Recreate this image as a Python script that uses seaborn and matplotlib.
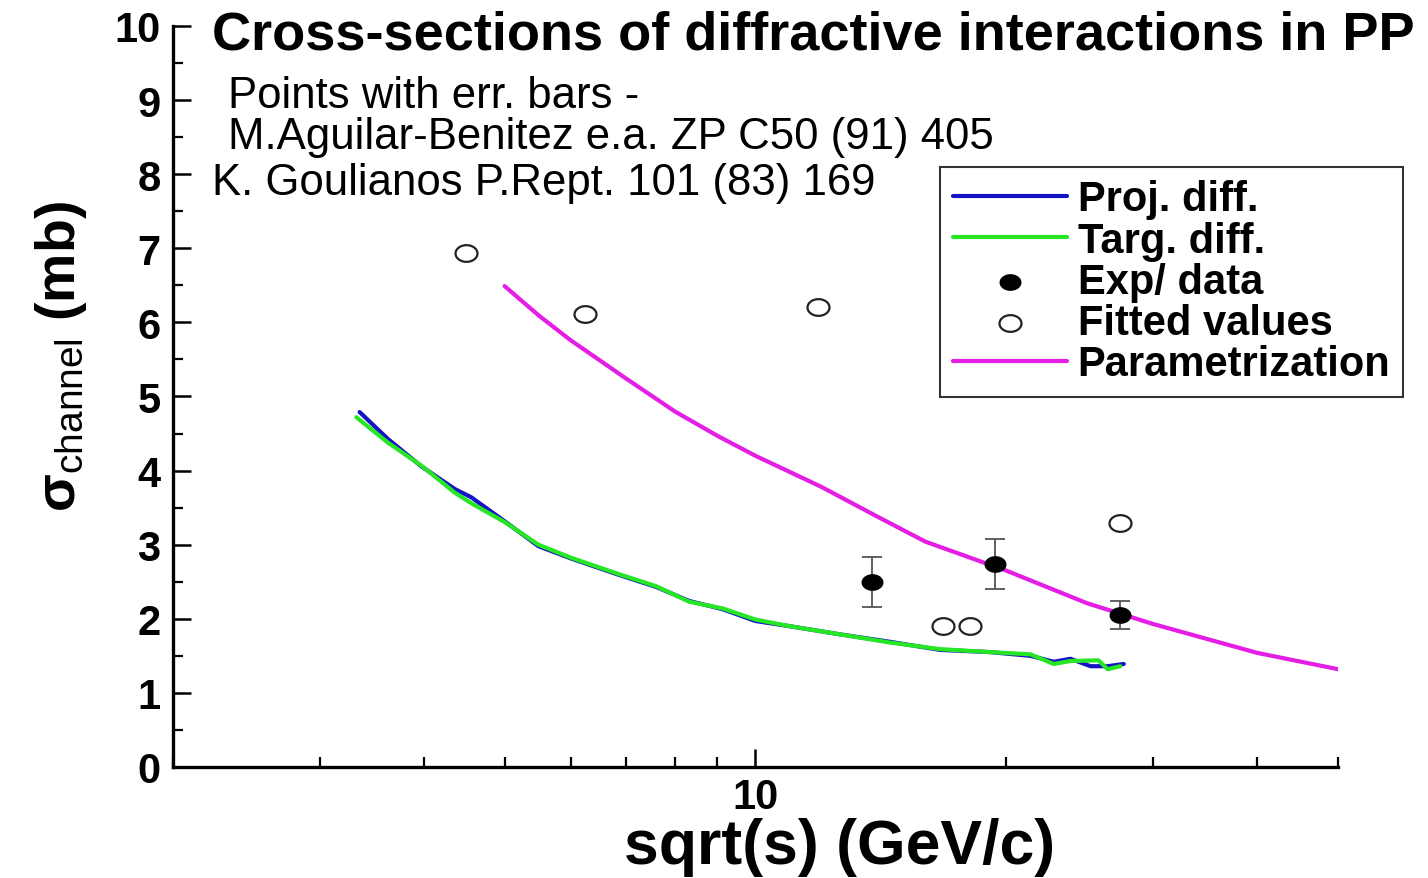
import numpy as np
import matplotlib
matplotlib.use("Agg")
import matplotlib.pyplot as plt
from matplotlib.path import Path
from matplotlib.ticker import MultipleLocator, LogLocator, NullFormatter, FixedLocator, FixedFormatter
import seaborn as sns

# Projectile diffraction (model calculation)
proj_x = [3.35, 3.62, 3.97, 4.36, 4.56, 5.01, 5.49, 6.02, 6.91, 7.60, 8.33, 9.13,
          10.0, 10.99, 12.63, 14.49, 16.66, 19.14, 21.39, 22.80, 23.88, 25.24, 26.47, 27.67]
proj_y = [4.79, 4.43, 4.06, 3.75, 3.64, 3.31, 2.98, 2.81, 2.58, 2.43, 2.24, 2.13,
          1.97, 1.90, 1.79, 1.69, 1.58, 1.55, 1.50, 1.42, 1.46, 1.36, 1.36, 1.39]

# Target diffraction (model calculation)
targ_x = [3.32, 3.62, 3.97, 4.36, 4.56, 5.01, 5.49, 6.02, 6.91, 7.60, 8.33, 9.13,
          10.0, 10.99, 12.63, 14.49, 16.66, 19.14, 21.39, 22.80, 23.88, 25.8, 26.47, 27.4]
targ_y = [4.72, 4.38, 4.07, 3.70, 3.56, 3.30, 3.00, 2.82, 2.59, 2.44, 2.23, 2.14,
          1.99, 1.90, 1.79, 1.68, 1.59, 1.55, 1.52, 1.39, 1.43, 1.44, 1.32, 1.36]

# Parametrization
param_x = [5.0, 5.5, 6.0, 7.0, 8.0, 9.0, 10.0, 12.0, 14.0, 16.0, 20.0, 25.0, 30.0, 40.0, 50.0]
param_y = [6.49, 6.09, 5.76, 5.24, 4.80, 4.47, 4.20, 3.78, 3.38, 3.04, 2.65, 2.21, 1.93, 1.54, 1.32]

# Experimental data with errors
exp_x = [13.8, 19.4, 27.4]
exp_y = [2.50, 2.74, 2.05]
exp_err = [0.34, 0.34, 0.19]

# Fitted values
fit_x = [4.5, 6.25, 11.9, 16.8, 18.1, 27.4]
fit_y = [6.94, 6.11, 6.21, 1.90, 1.90, 3.29]

y_ticks = [0, 1, 2, 3, 4, 5, 6, 7, 8, 9, 10]
x_tick_labels = ["10"]

sns.set_theme(style="ticks")
plt.rcParams["font.family"] = ["Liberation Sans", "DejaVu Sans"]
plt.rcParams["mathtext.fontset"] = "custom"
plt.rcParams["mathtext.rm"] = "Liberation Sans"
plt.rcParams["mathtext.it"] = "Liberation Sans:italic"
plt.rcParams["mathtext.bf"] = "Liberation Sans:bold"
for key in ["text.color", "axes.labelcolor", "xtick.color", "ytick.color",
            "xtick.labelcolor", "ytick.labelcolor"]:
    plt.rcParams[key] = "black"

fig = plt.figure(figsize=(14.28, 8.79), dpi=100)
ax = fig.add_axes([0.1211, 0.1263, 0.8158, 0.8430])

# slightly flattened circle used for the point markers
t = np.linspace(0, 2 * np.pi, 73)
ell = Path(np.column_stack([np.cos(t), 0.76 * np.sin(t)]), closed=True)

sns.lineplot(x=proj_x, y=proj_y, ax=ax, color="#1414c4", lw=3, sort=False,
             estimator=None, label="Proj. diff.")
sns.lineplot(x=targ_x, y=targ_y, ax=ax, color="#26e626", lw=3, sort=False,
             estimator=None, label="Targ. diff.")
sns.lineplot(x=param_x, y=param_y, ax=ax, color="#e41ee4", lw=3, sort=False,
             estimator=None, label="Parametrization")

ax.errorbar(exp_x, exp_y, yerr=exp_err, fmt="none", ecolor="#555555",
            elinewidth=1.3, capsize=7, capthick=1.3, zorder=3)
sns.scatterplot(x=exp_x, y=exp_y, ax=ax, marker=ell, s=250, color="black",
                edgecolor="black", linewidth=0, zorder=4, label="Exp/ data")
sns.scatterplot(x=fit_x, y=fit_y, ax=ax, marker=ell, s=250, facecolor="white",
                edgecolor="#222222", linewidth=1.6, zorder=4, label="Fitted values")

ax.set_xscale("log")
ax.set_xlim(2, 50)
ax.set_ylim(0, 10)

ax.xaxis.set_major_locator(FixedLocator([10]))
ax.xaxis.set_major_formatter(FixedFormatter(x_tick_labels))
ax.xaxis.set_minor_locator(LogLocator(base=10, subs=np.arange(2, 10)))
ax.xaxis.set_minor_formatter(NullFormatter())
ax.yaxis.set_major_locator(FixedLocator(y_ticks))
ax.yaxis.set_minor_locator(MultipleLocator(0.5))

for side in ["top", "right"]:
    ax.spines[side].set_visible(False)
for side in ["left", "bottom"]:
    ax.spines[side].set_linewidth(2.4)
    ax.spines[side].set_color("black")

ax.tick_params(which="major", direction="in", length=13, width=1.8, color="black",
               labelsize=30)
ax.tick_params(axis="y", which="major", pad=9)
ax.tick_params(axis="x", which="major", pad=7)
ax.tick_params(which="minor", direction="in", length=7, width=1.6, color="black")
for lab in ax.get_xticklabels() + ax.get_yticklabels():
    lab.set_fontweight("bold")

ax.set_xlabel("sqrt(s) (GeV/c)", fontsize=45, fontweight="bold", va="baseline")
ax.xaxis.set_label_coords(0.5725, -0.1296)
ax.set_ylabel(r"σ$_{\mathrm{channel}}$ (mb)", fontsize=40, fontweight="bold")
ax.yaxis.set_label_coords(-0.072, 0.555)

fig.text(212 / 1428, 1 - 50 / 879, "Cross-sections of diffractive interactions in PP",
         fontsize=39, fontweight="bold", ha="left", va="baseline")
fig.text(228 / 1428, 1 - 108 / 879, "Points with err. bars -", fontsize=31.5,
         ha="left", va="baseline")
fig.text(228 / 1428, 1 - 149 / 879, "M.Aguilar-Benitez e.a. ZP C50 (91) 405", fontsize=31.5,
         ha="left", va="baseline")
fig.text(212 / 1428, 1 - 195 / 879, "K. Goulianos P.Rept. 101 (83) 169", fontsize=31.5,
         ha="left", va="baseline")

handles, labels = ax.get_legend_handles_labels()
order = ["Proj. diff.", "Targ. diff.", "Exp/ data", "Fitted values", "Parametrization"]
hmap = dict(zip(labels, handles))
ax.legend().remove()
leg = fig.legend([hmap[k] for k in order], order, loc="upper left",
                 bbox_to_anchor=(940 / 1428, 1 - 168 / 879),
                 prop={"weight": "bold", "size": 30}, frameon=True, fancybox=False,
                 edgecolor="#333333", framealpha=1, handlelength=2.75,
                 handletextpad=0.25, labelspacing=0.03, borderpad=0.3,
                 borderaxespad=0)
leg.get_frame().set_linewidth(1.5)

fig.savefig("out.png", dpi=100)
